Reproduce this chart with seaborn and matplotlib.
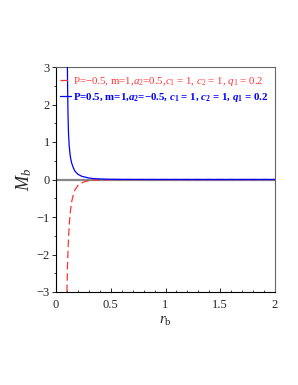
import matplotlib
matplotlib.use("Agg")
import matplotlib.pyplot as plt
import seaborn as sns
import pandas as pd
import numpy as np

# data
r_blue = [0.100, 0.104, 0.107, 0.110, 0.114, 0.120, 0.128, 0.136, 0.144, 0.160, 0.174,
          0.200, 0.236, 0.296, 0.350, 0.450, 0.600, 0.800, 1.000, 1.500, 2.000]
m_blue = [4.00, 3.00, 2.25, 1.70, 1.25, 0.92, 0.68, 0.53, 0.43, 0.30, 0.22,
          0.14, 0.085, 0.042, 0.022, 0.009, 0.003, 0.001, 0.0005, 0.0001, 0.0]
r_red = [0.100, 0.105, 0.113, 0.120, 0.128, 0.136, 0.144, 0.160, 0.174, 0.200, 0.220,
         0.260, 0.296, 0.350, 0.450, 0.600, 0.800, 1.000, 1.500, 2.000]
m_red = [-3.00, -2.30, -1.66, -1.25, -0.95, -0.74, -0.58, -0.39, -0.27, -0.16, -0.11,
         -0.06, -0.035, -0.017, -0.007, -0.002, -0.0008, -0.0003, -0.0001, 0.0]
label_red = r"P=$-$0.5, m=1,$a_2$=0.5,$c_1$ = 1, $c_2$ = 1, $q_1$ = 0.2"
label_blue = r"P=0.5, m=1,$\mathbfit{a}_\mathbf{2}$=$\mathbf{-}$0.5, $\mathbfit{c}_\mathbf{1}$ = 1, $\mathbfit{c}_\mathbf{2}$ = 1, $\mathbfit{q}_\mathbf{1}$ = 0.2"
x_ticks = [0, 0.5, 1, 1.5, 2]
x_ticklabels = ["0", "0.5", "1", "1.5", "2"]
y_ticks = [-3, -2, -1, 0, 1, 2, 3]
y_ticklabels = ["\u22123", "\u22122", "\u22121", "0", "1", "2", "3"]

sns.set_style("white")
plt.rcParams['font.family'] = ['Liberation Serif', 'DejaVu Serif']
plt.rcParams['mathtext.fontset'] = 'custom'
plt.rcParams['mathtext.rm'] = 'Liberation Serif'
plt.rcParams['mathtext.it'] = 'Liberation Serif:italic'
plt.rcParams['mathtext.bf'] = 'Liberation Serif:bold'
plt.rcParams['mathtext.bfit'] = 'Liberation Serif:bold:italic'

fig = plt.figure(figsize=(2.98, 3.85), dpi=100)
ax = fig.add_axes([56/298, 1-292/385, (275-56)/298, (292-67)/385])

ax.axhline(0, color='#888888', lw=1.6, zorder=1)

df_red = pd.DataFrame({"r": r_red, "M": m_red})
df_blue = pd.DataFrame({"r": r_blue, "M": m_blue})
sns.lineplot(data=df_red, x="r", y="M", ax=ax, color='#ff3333', lw=0.9,
             label=label_red, zorder=3)
ax.lines[-1].set_dashes([6, 3])
sns.lineplot(data=df_blue, x="r", y="M", ax=ax, color='#0000ff', lw=0.9,
             label=label_blue, zorder=3)

ax.set_xlim(0, 2)
ax.set_ylim(-3, 3)
ax.set_xticks(x_ticks)
ax.set_xticklabels(x_ticklabels)
ax.set_yticks(y_ticks)
ax.set_yticklabels(y_ticklabels)
ax.set_xticks(np.arange(0, 2.01, 0.1), minor=True)
ax.set_yticks(np.arange(-3, 3.01, 0.5), minor=True)
ax.tick_params(axis='x', which='major', direction='in', length=3, width=0.7, labelsize=9, pad=5)
ax.tick_params(axis='x', which='minor', direction='in', length=1.8, width=0.6)
ax.tick_params(axis='y', which='major', direction='out', length=3, width=0.7, labelsize=9, pad=1.5)
ax.tick_params(axis='y', which='minor', direction='out', length=1.8, width=0.6)
ax.tick_params(bottom=True, left=True, which='both')

for s in ['left', 'bottom']:
    ax.spines[s].set_color('black')
    ax.spines[s].set_linewidth(0.8)
for s in ['top', 'right']:
    ax.spines[s].set_color('#666666')
    ax.spines[s].set_linewidth(0.8)

ax.set_xlabel(r"$r_{\mathrm{b}}$", fontsize=11, labelpad=3)
ax.set_ylabel(r"$M_b$", fontsize=13, labelpad=2)

leg = ax.legend(loc='upper left', bbox_to_anchor=(-0.01, 0.995), frameon=False,
                fontsize=7.8, handlelength=1.0, handletextpad=0.2, labelspacing=0.3,
                borderaxespad=0.2)
texts = leg.get_texts()
texts[0].set_color('#ff3333')
texts[1].set_color('#0000ff')
texts[1].set_fontweight('bold')

fig.savefig("out.png", dpi=100)
